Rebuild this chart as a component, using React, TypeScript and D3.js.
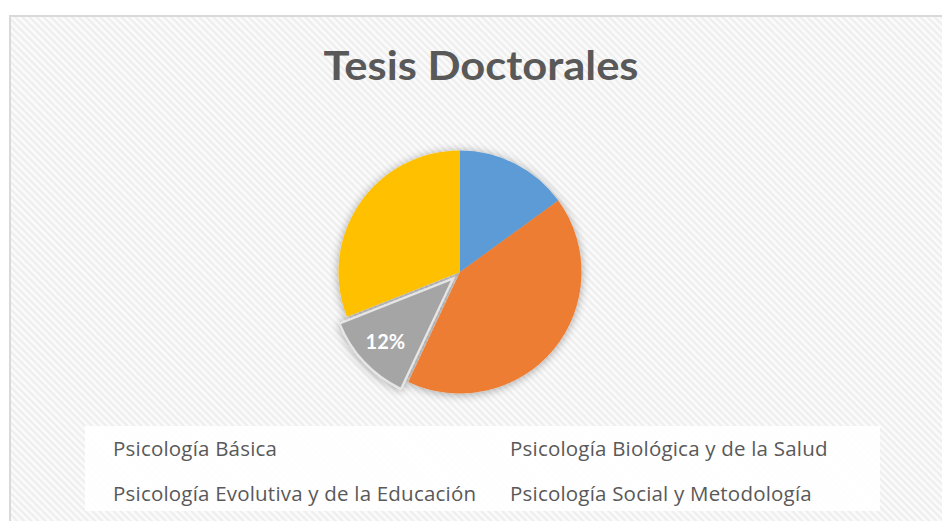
import React from "react";
import * as d3 from "d3";

const title = "Tesis Doctorales";
const categories = [
  "Psicología Básica",
  "Psicología Biológica y de la Salud",
  "Psicología Evolutiva y de la Educación",
  "Psicología Social y Metodología",
];
const values = [15, 42, 12, 31];
const colors = ["#5B9BD5", "#ED7D31", "#A5A5A5", "#FFC000"];
const exploded = ["Psicología Evolutiva y de la Educación"];
const labelled = ["Psicología Evolutiva y de la Educación"];

const W = 942;
const H = 521;

export default function App() {
  const cx = 460;
  const cy = 272;
  const r = 121.5;
  const total = d3.sum(values);
  const pie = d3
    .pie<number>()
    .sort(null)
    .value((d) => d)
    .startAngle(0)
    .endAngle(2 * Math.PI);
  const arcs = pie(values);
  const arc = d3.arc<d3.PieArcDatum<number>>().innerRadius(0).outerRadius(r);
  const labelArc = d3
    .arc<d3.PieArcDatum<number>>()
    .innerRadius(r * 0.76)
    .outerRadius(r * 0.76);
  const fmt = d3.format(".0%");

  const legendX = [113, 510];
  const legendY = [456, 501];

  return (
    <div style={{ position: "absolute", left: 0, top: 0 }}>
      <svg width={W} height={H} style={{ display: "block" }}>
        <defs>
          <pattern
            id="stripes"
            width="5"
            height="5"
            patternUnits="userSpaceOnUse"
            patternTransform="rotate(45)"
          >
            <rect width="5" height="5" fill="#fbfbfb" />
            <rect width="5" height="2.3" fill="#eeeeee" />
          </pattern>
          <filter id="shadow" x="-30%" y="-30%" width="160%" height="160%">
            <feGaussianBlur in="SourceAlpha" stdDeviation="5" />
            <feOffset dx="0" dy="1" result="b" />
            <feComponentTransfer>
              <feFuncA type="linear" slope="0.35" />
            </feComponentTransfer>
            <feMerge>
              <feMergeNode />
              <feMergeNode in="SourceGraphic" />
            </feMerge>
          </filter>
        </defs>
        <rect x={0} y={0} width={W} height={H} fill="#ffffff" />
        <rect
          x={10}
          y={16}
          width={W}
          height={H}
          fill="url(#stripes)"
          stroke="#d9d9d9"
          strokeWidth={2}
        />
        <text
          x={481}
          y={80}
          textAnchor="middle"
          fontFamily="Lato, 'Open Sans', sans-serif"
          fontWeight={700}
          fontSize={41}
          fill="#595959"
          textLength={315}
          lengthAdjust="spacingAndGlyphs"
        >
          {title}
        </text>
        <g transform={`translate(${cx},${cy})`} filter="url(#shadow)">
          {arcs.map((a, i) => {
            const isEx = exploded.includes(categories[i]);
            const mid = (a.startAngle + a.endAngle) / 2;
            const [ox, oy] = isEx ? [Math.sin(mid) * 10, -Math.cos(mid) * 10] : [0, 0];
            return (
              <path
                key={i}
                d={arc(a) || ""}
                transform={`translate(${ox},${oy})`}
                fill={colors[i]}
                stroke={isEx ? "#e6e6e6" : "none"}
                strokeWidth={isEx ? 2 : 0}
              />
            );
          })}
        </g>
        <g transform={`translate(${cx},${cy})`}>
          {arcs.map((a, i) => {
            if (!labelled.includes(categories[i])) return null;
            const isEx = exploded.includes(categories[i]);
            const mid = (a.startAngle + a.endAngle) / 2;
            const off = isEx ? 10 : 0;
            const [lx, ly] = labelArc.centroid(a);
            return (
              <text
                key={i}
                x={lx + Math.sin(mid) * off}
                y={ly - Math.cos(mid) * off}
                dy="0.35em"
                textAnchor="middle"
                fontFamily="Lato, 'Open Sans', sans-serif"
                fontWeight={700}
                fontSize={20}
                fill="#ffffff"
              >
                {fmt(values[i] / total)}
              </text>
            );
          })}
        </g>
        <rect x={85} y={426} width={795} height={85} fill="#ffffff" fillOpacity={0.9} />
        {categories.map((c, i) => (
          <text
            key={c}
            x={legendX[i % 2]}
            y={legendY[Math.floor(i / 2)]}
            fontFamily="'Open Sans', Lato, sans-serif"
            fontSize={20.5}
            letterSpacing={0.2}
            fill="#595959"
          >
            {c}
          </text>
        ))}
      </svg>
    </div>
  );
}
